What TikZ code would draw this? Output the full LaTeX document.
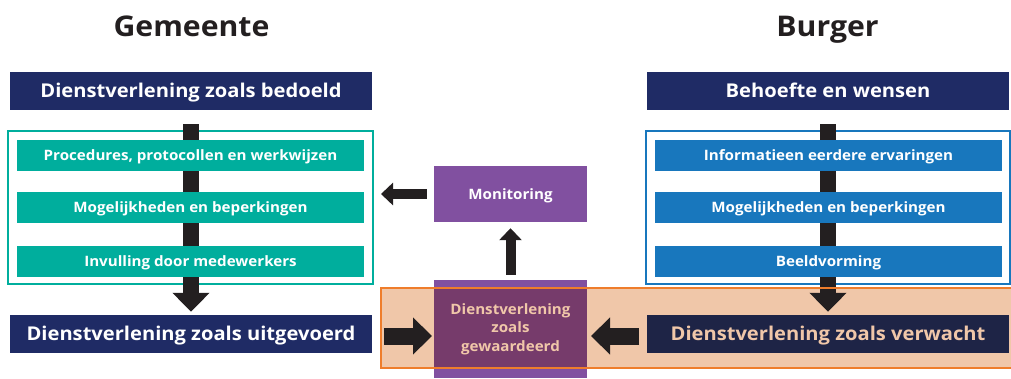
\documentclass[tikz,border=0pt]{standalone}
\usepackage{fontspec}
\setmainfont{Open Sans}[FakeStretch=1.06]
\usetikzlibrary{arrows.meta}
\definecolor{navy}{HTML}{1F2B65}
\definecolor{darknavy}{HTML}{1E2446}
\definecolor{teal}{HTML}{00AE9D}
\definecolor{blueb}{HTML}{1877BD}
\definecolor{purp}{HTML}{8150A0}
\definecolor{darkpurp}{HTML}{763B6B}
\definecolor{peach}{HTML}{F0C7A9}
\definecolor{orangeb}{HTML}{EF7D2B}
\definecolor{ink}{HTML}{231F20}
\tikzset{
  title/.style={text=ink, font=\fontsize{28.5}{32}\selectfont\bfseries, inner sep=0pt, anchor=base},
  hbox/.style={fill=navy, text=white, font=\fontsize{19}{21}\selectfont\bfseries, minimum width=362pt, minimum height=38pt, inner sep=0pt, text height=13.5pt, text depth=0pt},
  sbox/.style={text=white, font=\fontsize{14.3}{16}\selectfont\bfseries, minimum width=347pt, minimum height=31pt, inner sep=0pt, text height=10pt, text depth=0pt},
  frame/.style={draw, line width=2pt, minimum height=153pt, inner sep=0pt},
  pbox/.style={fill=purp, text=white, font=\fontsize{14.3}{16}\selectfont\bfseries, minimum width=153pt, inner sep=0pt},
  bigarrow/.style={draw=ink, line width=16pt, -{Triangle[width=36pt,length=19pt,fill=ink]}},
  smallarrow/.style={draw=ink, line width=10pt, -{Triangle[width=22pt,length=12pt,fill=ink]}},
}
\begin{document}
\begin{tikzpicture}[x=1pt,y=-1pt]
\useasboundingbox (0,0) rectangle (1011,378);
\clip (0,0) rectangle (1011,378);
% band fill
\fill[peach] (381,288) rectangle (1020,368);
% titles
\node[title] (tg) at (191.5,36.5) {Gemeente};
\node[title] (tb) at (827.5,36.5) {Burger};
% left column
\node[hbox] (top1) at (191,91) {Dienstverlening zoals bedoeld};
\node[frame, draw=teal, minimum width=365pt] (fL) at (190.5,207.5) {};
\node[hbox] (bot1) at (191,334) {Dienstverlening zoals uitgevoerd};
\draw[bigarrow] ([yshift=-14pt]top1.south) -- ([yshift=3pt]bot1.north);
\node[sbox, fill=teal] (l1) at (190.5,155.5) {Procedures, protocollen en werkwijzen};
\node[sbox, fill=teal] (l2) at (190.5,207.5) {Mogelijkheden en beperkingen};
\node[sbox, fill=teal] (l3) at (190.5,261.5) {Invulling door medewerkers};
% right column
\node[hbox] (top2) at (828,91) {Behoefte en wensen};
\node[frame, draw=blueb, minimum width=364pt] (fR) at (828,207.5) {};
\node[hbox, fill=darknavy, text=peach] (bot2) at (828,334) {Dienstverlening zoals verwacht};
\draw[bigarrow] ([yshift=-14pt]top2.south) -- ([yshift=3pt]bot2.north);
\node[sbox, fill=blueb] (r1) at (828.5,155.5) {Informatieen eerdere ervaringen};
\node[sbox, fill=blueb] (r2) at (828.5,207.5) {Mogelijkheden en beperkingen};
\node[sbox, fill=blueb] (r3) at (828.5,261.5) {Beeldvorming};
% middle
\node[pbox, minimum height=56pt, text height=10pt, text depth=0pt] (mon) at (510.5,194) {Monitoring};
\node[pbox, minimum height=98pt, text=peach, align=center,
  font=\fontsize{14.3}{18.5}\selectfont\bfseries,
  path picture={\fill[darkpurp] ([yshift=-8pt]path picture bounding box.north west) rectangle ([yshift=10pt]path picture bounding box.south east);}]
  (gew) at (510.5,329) {Dienstverlening\\zoals\\gewaardeerd};
% band border
\draw[orangeb, line width=2pt] (1020,288) -- (381,288) -- (381,368) -- (1020,368);
% arrows
\coordinate (upS) at ([yshift=5pt]gew.north);
\coordinate (upE) at ([yshift=-6pt]mon.south);
\draw[smallarrow] (upS) -- (upE);
\coordinate (lfS) at ([xshift=-7pt]mon.west);
\coordinate (lfE) at (381,194);
\draw[smallarrow] (lfS) -- (lfE);
\coordinate (inLS) at (384,336);
\coordinate (inLE) at (432,336);
\draw[bigarrow, line width=17pt] (inLS) -- (inLE);
\coordinate (inRS) at (639,336);
\coordinate (inRE) at (591,336);
\draw[bigarrow, line width=17pt] (inRS) -- (inRE);
\end{tikzpicture}
\end{document}
